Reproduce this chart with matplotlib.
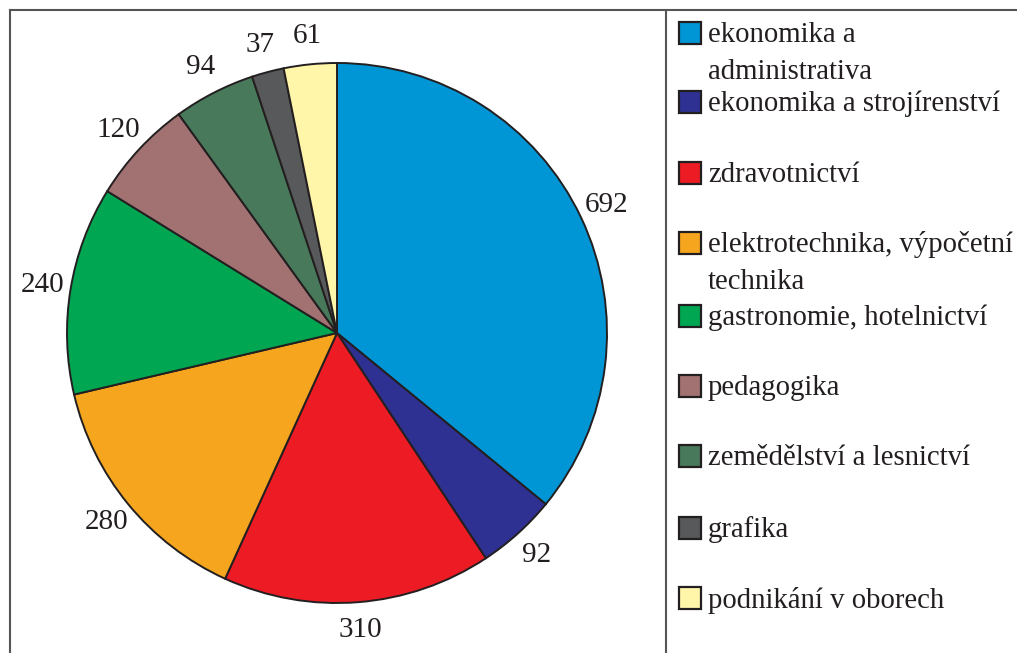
import matplotlib
matplotlib.use("Agg")
import matplotlib.pyplot as plt
from matplotlib.lines import Line2D
from matplotlib.patches import Rectangle

plt.rcParams['font.family'] = ['Liberation Serif', 'DejaVu Serif']

obory = ['ekonomika a\nadministrativa', 'ekonomika a strojírenství', 'zdravotnictví',
         'elektrotechnika, výpočetní\ntechnika', 'gastronomie, hotelnictví', 'pedagogika',
         'zemědělství a lesnictví', 'grafika', 'podnikání v oborech']
pocty = [692, 92, 310, 280, 240, 120, 94, 37, 61]
barvy = ['#0096D6', '#2E3192', '#ED1C24', '#F6A61E', '#00A651', '#A27171',
         '#48795B', '#58595B', '#FFF6AA']

W, H = 1017, 653
fig = plt.figure(figsize=(W / 100, H / 100), dpi=100)

# pie axes, center ~ (337, 333) px, radius 270 px
cx, cy, r = 337, 333, 270
ax = fig.add_axes([(cx - r) / W, (H - cy - r) / H, 2 * r / W, 2 * r / H])
wedges, texts = ax.pie(pocty, labels=[str(p) for p in pocty], colors=barvy,
                       startangle=90, counterclock=False, labeldistance=1.105,
                       wedgeprops=dict(edgecolor='#231F20', linewidth=1.4))
for t in texts:
    t.set_ha('center')
    t.set_fontsize(21)
    t.set_color('#231F20')
ax.set_xlim(-1, 1)
ax.set_ylim(-1, 1)
ax.axis('off')

# legend drawn by hand
leg_y = [33, 102, 173, 243, 316, 386, 456, 528, 598]
for y, lab, c in zip(leg_y, obory, barvy):
    fig.add_artist(Rectangle(((679) / W, (H - y - 11) / H), 22 / W, 22 / H,
                             facecolor=c, edgecolor='#231F20', linewidth=1.6,
                             transform=fig.transFigure))
    for i, line in enumerate(lab.split('\n')):
        fig.text(708 / W, (H - y - i * 37 - 2) / H, line, fontsize=20.7,
                 color='#231F20', ha='left', va='center')

# frame lines
frame = dict(color='#555555', linewidth=1.5, transform=fig.transFigure)
fig.add_artist(Line2D([10 / W, 1], [1 - 10 / H, 1 - 10 / H], **frame))
fig.add_artist(Line2D([10 / W, 10 / W], [0, 1 - 10 / H], **frame))
fig.add_artist(Line2D([666 / W, 666 / W], [0, 1 - 10 / H], **frame))

fig.savefig('out.png', dpi=100)
